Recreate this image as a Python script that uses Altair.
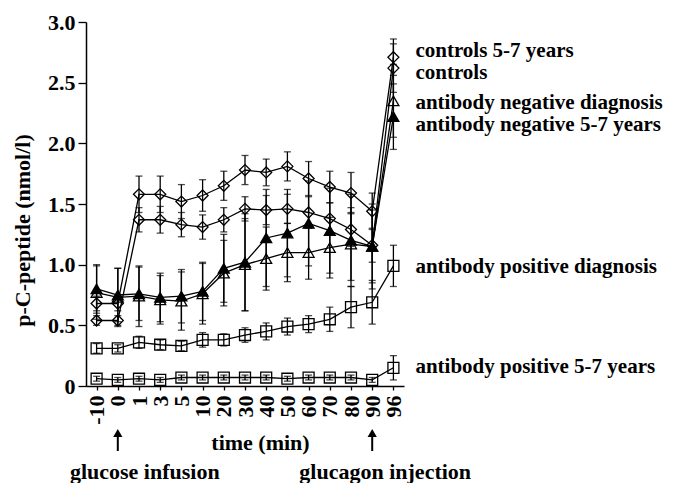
import altair as alt
import pandas as pd

times = ["-10", "0", "1", "3", "5", "10", "20", "30", "40", "50", "60", "70", "80", "90", "96"]

series_names = [
    "controls 5-7 years",
    "controls",
    "antibody negative diagnosis",
    "antibody negative 5-7 years",
    "antibody positive diagnosis",
    "antibody positive 5-7 years",
]

controls_57 = [0.68, 0.68, 1.58, 1.58, 1.52, 1.57, 1.65, 1.78, 1.76, 1.81, 1.71, 1.64, 1.59, 1.44, 2.71]
controls_57_err = [0.06, 0.06, 0.15, 0.15, 0.14, 0.13, 0.12, 0.12, 0.11, 0.12, 0.14, 0.13, 0.17, 0.15, 0.15]

controls = [0.54, 0.54, 1.37, 1.37, 1.33, 1.31, 1.37, 1.46, 1.45, 1.46, 1.43, 1.38, 1.29, 1.16, 2.62]
controls_err = [0.04, 0.04, 0.10, 0.11, 0.10, 0.10, 0.10, 0.10, 0.12, 0.12, 0.13, 0.13, 0.14, 0.14, 0.20]

neg_diag = [0.77, 0.73, 0.74, 0.71, 0.70, 0.76, 0.93, 1.00, 1.05, 1.10, 1.10, 1.14, 1.17, 1.15, 2.35]
neg_diag_err = [0.22, 0.24, 0.25, 0.20, 0.24, 0.25, 0.27, 0.38, 0.26, 0.24, 0.22, 0.25, 0.30, 0.30, 0.30]

neg_57 = [0.80, 0.75, 0.76, 0.73, 0.74, 0.78, 0.97, 1.02, 1.22, 1.26, 1.34, 1.28, 1.20, 1.15, 2.22]
neg_57_err = [0.20, 0.22, 0.22, 0.20, 0.22, 0.24, 0.28, 0.40, 0.40, 0.36, 0.35, 0.35, 0.38, 0.35, 0.27]

pos_diag = [0.31, 0.31, 0.36, 0.34, 0.33, 0.38, 0.38, 0.42, 0.45, 0.49, 0.51, 0.55, 0.65, 0.69, 0.99]
pos_diag_err = [0.04, 0.03, 0.05, 0.04, 0.04, 0.06, 0.05, 0.06, 0.07, 0.07, 0.07, 0.10, 0.17, 0.18, 0.17]

pos_57 = [0.06, 0.05, 0.06, 0.05, 0.07, 0.07, 0.07, 0.07, 0.07, 0.06, 0.07, 0.07, 0.07, 0.05, 0.15]
pos_57_err = [0.02, 0.02, 0.02, 0.02, 0.02, 0.02, 0.02, 0.02, 0.02, 0.02, 0.02, 0.02, 0.02, 0.02, 0.10]

series_values = [controls_57, controls, neg_diag, neg_57, pos_diag, pos_57]
series_errors = [controls_57_err, controls_err, neg_diag_err, neg_57_err, pos_diag_err, pos_57_err]
series_shapes = ["diamond", "diamond", "triangle-up", "triangle-up", "square", "square"]
series_fills = ["white", "white", "white", "black", "white", "white"]

label_y = [2.71, 2.53, 2.28, 2.10, 0.93, 0.11]

rows = []
for name, vals, errs in zip(series_names, series_values, series_errors):
    for i, (t, v, e) in enumerate(zip(times, vals, errs)):
        rows.append({"series": name, "time": t, "idx": i, "value": v,
                     "lo": v - e, "hi": v + e})
df = pd.DataFrame(rows)

labels_df = pd.DataFrame({"series": series_names, "y": label_y, "time": ["96"] * 6})
ann_times = ["0", "90"]
ann_texts = ["glucose infusion", "glucagon injection"]
ann_df = pd.DataFrame({"time": ann_times, "text": ann_texts})

FONT = "Liberation Serif"
FS = 22

x = alt.X("time:O", sort=times,
          scale=alt.Scale(type="point", padding=0.5, domain=times),
          axis=alt.Axis(title="time (min)", labelAngle=270, labelAlign="right",
                        labelBaseline="middle", labelFontSize=FS, labelFont=FONT,
                        labelFontWeight="bold", labelPadding=5, tickSize=4,
                        titleFont=FONT, titleFontSize=FS, titleFontWeight="bold",
                        titleX=174, titleY=63, titleBaseline="alphabetic", titleAlign="center",
                        domainColor="black", tickColor="black", labelColor="black",
                        domainWidth=1.5, tickWidth=1.3, titleColor="black"))
y_scale = alt.Scale(domain=[0, 3], nice=False)
y = alt.Y("value:Q", scale=y_scale,
          axis=alt.Axis(title="p-C-peptide (nmol/l)", values=[0, 0.5, 1, 1.5, 2, 2.5, 3],
                        labelExpr="datum.value == 0 ? '0' : format(datum.value, '.1f')",
                        labelFontSize=FS, labelFont=FONT, labelFontWeight="bold",
                        labelColor="black", tickSize=8, tickColor="black", tickWidth=1.3,
                        labelPadding=3, domainColor="black", domainWidth=1.5,
                        titleFont=FONT, titleFontSize=FS, titleFontWeight="bold",
                        titleColor="black", titleX=-64, titleY=208, titleAlign="center",
                        titleBaseline="middle"))

xs = alt.X("time:O", sort=times)
base = alt.Chart(df)

lines = base.mark_line(color="black", strokeWidth=1.3).encode(
    x=x, y=y, detail="series:N", order="idx:Q")

err_rules = base.mark_rule(color="black", strokeWidth=1.3).encode(
    x=xs, y=alt.Y("lo:Q", scale=y_scale), y2="hi:Q", detail="series:N")
cap_lo = base.mark_tick(color="black", thickness=1.3, size=7).encode(
    x=xs, y=alt.Y("lo:Q", scale=y_scale))
cap_hi = base.mark_tick(color="black", thickness=1.3, size=7).encode(
    x=xs, y=alt.Y("hi:Q", scale=y_scale))

points = base.mark_point(stroke="black", strokeWidth=1.3, opacity=1, size=120).encode(
    x=xs, y=alt.Y("value:Q", scale=y_scale),
    shape=alt.Shape("series:N", scale=alt.Scale(domain=series_names, range=series_shapes), legend=None),
    fill=alt.Fill("series:N", scale=alt.Scale(domain=series_names, range=series_fills), legend=None),
    fillOpacity=alt.condition(alt.datum.series == "antibody negative 5-7 years",
                              alt.value(1), alt.value(0)),
)

labels = alt.Chart(labels_df).mark_text(align="left", baseline="alphabetic", dx=22,
                                        font=FONT, fontSize=21, fontWeight="bold",
                                        color="black").encode(
    x=xs, y=alt.Y("y:Q", scale=y_scale), text="series:N")

arrow_line = alt.Chart(ann_df).mark_rule(color="black", strokeWidth=2).encode(
    x=xs, y=alt.value(411), y2=alt.value(429))
arrow_head = alt.Chart(ann_df).mark_point(shape="triangle-up", filled=True, color="black",
                                          opacity=1, size=85).encode(
    x=xs, y=alt.value(411))

ann_text1 = alt.Chart(ann_df).transform_filter(alt.datum.time == "0").mark_text(
    baseline="alphabetic", align="center", font=FONT, dx=27,
    fontSize=FS, fontWeight="bold", color="black").encode(
    x=xs, y=alt.value(457), text="text:N")
ann_text2 = alt.Chart(ann_df).transform_filter(alt.datum.time == "90").mark_text(
    baseline="alphabetic", align="center", font=FONT, dx=13,
    fontSize=FS, fontWeight="bold", color="black").encode(
    x=xs, y=alt.value(457), text="text:N")

chart = alt.layer(lines, err_rules, cap_lo, cap_hi, points, labels,
                  arrow_line, arrow_head, ann_text1, ann_text2).properties(
    width=318, height=364,
    autosize=alt.AutoSizeParams(type="none"),
    padding={"left": 78, "top": 14, "right": 270, "bottom": 97},
).configure_view(stroke=None).configure_axis(grid=False)

chart.save("out.html", embed_options={"renderer": "svg", "actions": False})
